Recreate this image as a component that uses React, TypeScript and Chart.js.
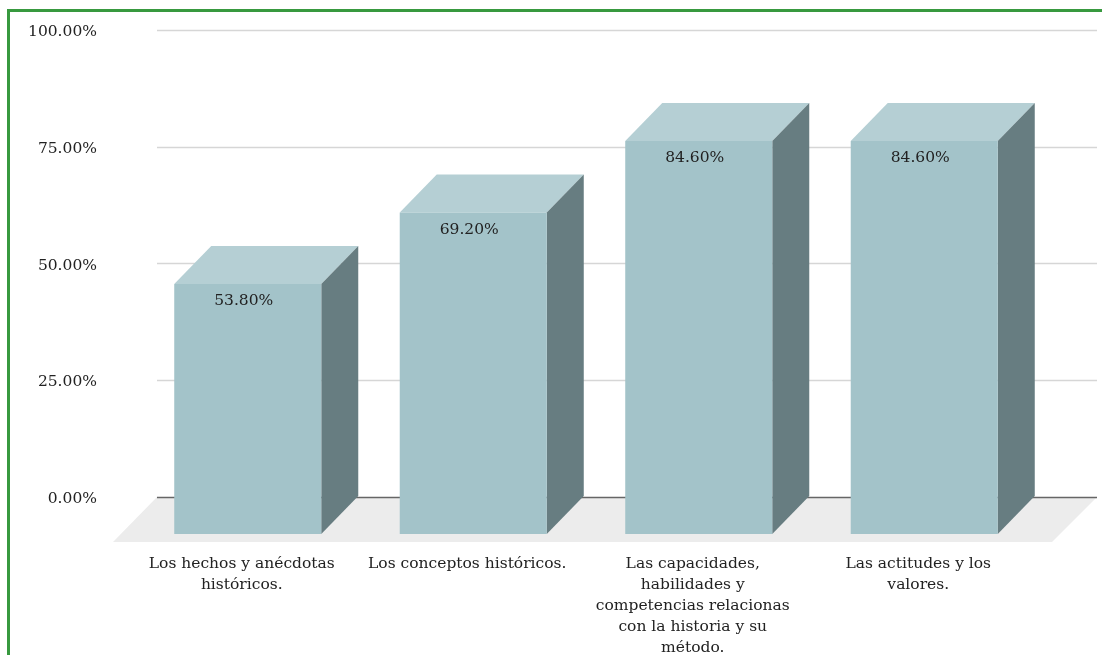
import { useEffect, useRef } from "react";
import { Chart, registerables } from "chart.js";

Chart.register(...registerables);

const categories: string[][] = [
  ["Los hechos y anécdotas", "históricos."],
  ["Los conceptos históricos."],
  ["Las capacidades,", "habilidades y", "competencias relacionas", "con la historia y su", "método."],
  ["Las actitudes y los", "valores."],
];
const shares = [53.8, 69.2, 84.6, 84.6];
const wallTicks = [0, 25, 50, 75, 100];

const FONT = '"DejaVu Serif", serif';
const DEPTH_X = 37;
const DEPTH_Y = 38;
const FRONT = "#a3c3c9";
const TOP = "#b5cfd4";
const SIDE = "#677d81";
const FLOOR = "#ececec";
const GRID = "#d6d6d6";
const BASELINE = "#666666";

// Back wall, floor and the receding faces of each column.
const depthFaces = {
  id: "depthFaces",
  beforeDatasetsDraw(chart: any) {
    const { ctx, chartArea, scales } = chart;
    const wall = scales.y;
    const left = chartArea.left + 22;
    const right = chartArea.right + 60;
    const base = wall.getPixelForValue(0);

    ctx.save();
    ctx.fillStyle = FLOOR;
    ctx.beginPath();
    ctx.moveTo(left, base);
    ctx.lineTo(right, base);
    ctx.lineTo(right - 45, base + 45);
    ctx.lineTo(left - 44, base + 45);
    ctx.closePath();
    ctx.fill();

    for (const t of wallTicks) {
      const y = Math.round(wall.getPixelForValue(t)) + 0.5;
      ctx.strokeStyle = t === 0 ? BASELINE : GRID;
      ctx.lineWidth = t === 0 ? 1.4 : 1.5;
      ctx.beginPath();
      ctx.moveTo(left, y);
      ctx.lineTo(right, y);
      ctx.stroke();
    }

    for (const bar of chart.getDatasetMeta(0).data) {
      const { x, y, base: bottom, width } = bar.getProps(["x", "y", "base", "width"], true);
      const l = x - width / 2;
      const r = x + width / 2;
      ctx.fillStyle = TOP;
      ctx.beginPath();
      ctx.moveTo(l, y);
      ctx.lineTo(l + DEPTH_X, y - DEPTH_Y);
      ctx.lineTo(r + DEPTH_X, y - DEPTH_Y);
      ctx.lineTo(r, y);
      ctx.closePath();
      ctx.fill();
      ctx.fillStyle = SIDE;
      ctx.beginPath();
      ctx.moveTo(r, y);
      ctx.lineTo(r + DEPTH_X, y - DEPTH_Y);
      ctx.lineTo(r + DEPTH_X, bottom - DEPTH_Y);
      ctx.lineTo(r, bottom);
      ctx.closePath();
      ctx.fill();
    }
    ctx.restore();
  },
  afterDatasetsDraw(chart: any) {
    const { ctx } = chart;
    ctx.save();
    ctx.font = `15.5px ${FONT}`;
    ctx.fillStyle = "#222222";
    ctx.textAlign = "center";
    ctx.textBaseline = "middle";
    chart.getDatasetMeta(0).data.forEach((bar: any, i: number) => {
      ctx.fillText(`${shares[i].toFixed(2)}%`, bar.x - 4, bar.y + 17);
    });
    ctx.restore();
  },
};

export default function App() {
  const ref = useRef<HTMLCanvasElement | null>(null);

  useEffect(() => {
    if (!ref.current) return;
    const chart = new Chart(ref.current, {
      type: "bar",
      data: {
        labels: categories as any,
        datasets: [
          {
            data: shares,
            backgroundColor: FRONT,
            borderWidth: 0,
            barPercentage: 0.652,
            categoryPercentage: 1,
            yAxisID: "yFront",
          },
        ],
      },
      options: {
        responsive: false,
        animation: false,
        layout: { padding: { top: 30, right: 65, left: 0, bottom: 0 } },
        plugins: { legend: { display: false }, tooltip: { enabled: false } },
        scales: {
          x: {
            grid: { display: false },
            border: { display: false },
            afterFit: (s: any) => {
              s.height = 121;
              s.paddingLeft = 0;
              s.paddingRight = 0;
            },
            ticks: {
              autoSkip: false,
              maxRotation: 0,
              minRotation: 0,
              labelOffset: -6,
              padding: 11,
              color: "#222222",
              font: { family: FONT, size: 15.5, lineHeight: 1.355 },
            },
          },
          // Wall axis: its zero sits at the back of the floor.
          y: {
            position: "left",
            min: -7.923,
            max: 100,
            grid: { display: false },
            border: { display: false },
            afterBuildTicks: (s: any) => {
              s.ticks = wallTicks.map((value) => ({ value }));
            },
            afterFit: (s: any) => {
              s.width = 135;
              s.paddingTop = 0;
              s.paddingBottom = 0;
            },
            ticks: {
              padding: 30,
              labelOffset: 2,
              color: "#222222",
              font: { family: FONT, size: 15.5 },
              callback: (v: any) => `${Number(v).toFixed(2)}%`,
            },
          },
          // Front axis: the columns stand on the front edge of the floor.
          yFront: {
            display: false,
            min: 0,
            max: 108.5,
          },
        },
      },
      plugins: [depthFaces],
    });
    return () => chart.destroy();
  }, []);

  return (
    <div style={{ position: "fixed", inset: 0, background: "#ffffff", overflow: "hidden" }}>
      <canvas ref={ref} width={1102} height={655} style={{ position: "absolute", left: 0, top: 0 }} />
      <div
        style={{
          position: "absolute",
          left: 7,
          top: 9,
          right: 0,
          bottom: 0,
          borderLeft: "3px solid #38993f",
          borderTop: "3px solid #38993f",
        }}
      />
    </div>
  );
}
